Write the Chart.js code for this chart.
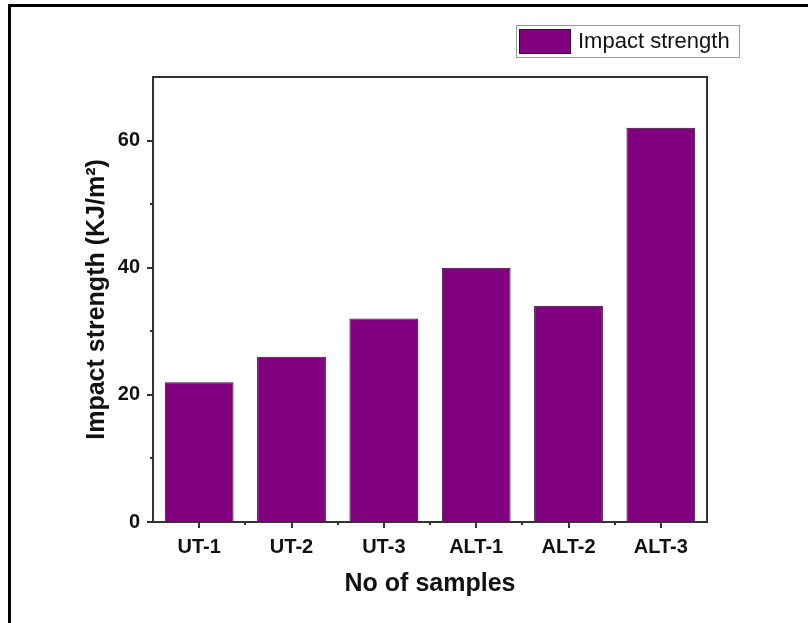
<!DOCTYPE html>
<html>
<head>
<meta charset="utf-8">
<script src="https://cdn.jsdelivr.net/npm/chart.js@4.4.0/dist/chart.umd.min.js"></script>
<style>
  body { margin: 0; background: #fff; }
  #wrap { position: relative; width: 808px; height: 623px; }
  #frame { position: absolute; left: 8px; top: 4px; width: 800px; height: 619px;
           border-top: 3px solid #000; border-left: 3px solid #000; box-sizing: border-box; }
  canvas { position: absolute; left: 0; top: 0; }
</style>
</head>
<body>
<div id="wrap">
  <div id="frame"></div>
  <canvas id="impactChart" width="808" height="623"></canvas>
</div>
<script>
const categories = ['UT-1', 'UT-2', 'UT-3', 'ALT-1', 'ALT-2', 'ALT-3']; // x labels
const impactStrength = [22, 26, 32, 40, 34, 62]; // KJ/m2
const yMajorTicks = [0, 20, 40, 60];
const yMinorTicks = [10, 30, 50];

const axisColor = '#333';
const fontFamily = '"Liberation Sans", Arial, sans-serif';

// frame around the plot + minor ticks
const framePlugin = {
    id: 'frame',
    afterDraw(chart) {
        const ctx = chart.ctx;
        const a = chart.chartArea;
        const x = chart.scales.x;
        const y = chart.scales.y;
        ctx.save();
        ctx.strokeStyle = axisColor;
        ctx.lineWidth = 2;
        ctx.strokeRect(a.left, a.top, a.right - a.left, a.bottom - a.top);
        ctx.beginPath();
        yMinorTicks.forEach(v => {
            const py = Math.round(y.getPixelForValue(v));
            ctx.moveTo(a.left, py);
            ctx.lineTo(a.left - 3, py);
        });
        // category boundaries on x
        for (let i = 1; i < categories.length; i++) {
            const px = Math.round((x.getPixelForTick(i - 1) + x.getPixelForTick(i)) / 2);
            ctx.moveTo(px, a.bottom);
            ctx.lineTo(px, a.bottom + 3);
        }
        ctx.stroke();
        ctx.restore();
    }
};

// legend box in the top right
const legendPlugin = {
    id: 'boxLegend',
    afterDraw(chart) {
        const ctx = chart.ctx;
        const ds = chart.data.datasets[0];
        ctx.save();
        ctx.fillStyle = '#fff';
        ctx.fillRect(516, 25, 223, 32);
        ctx.strokeStyle = '#999';
        ctx.lineWidth = 1;
        ctx.strokeRect(516.5, 25.5, 223, 32);
        ctx.fillStyle = ds.backgroundColor;
        ctx.fillRect(519, 29, 51, 24);
        ctx.strokeStyle = ds.borderColor;
        ctx.strokeRect(519.5, 29.5, 51, 24);
        ctx.fillStyle = '#111';
        ctx.font = '22px ' + fontFamily;
        ctx.textBaseline = 'middle';
        ctx.fillText(ds.label, 578, 42);
        ctx.restore();
    }
};

const ctx = document.getElementById('impactChart').getContext('2d');
const impactChart = new Chart(ctx, {
    type: 'bar',
    data: {
        labels: categories,
        datasets: [{
            label: 'Impact strength',
            data: impactStrength,
            backgroundColor: '#800080',
            borderColor: '#2e0a2e',
            borderWidth: 1,
            barPercentage: 0.745,
            categoryPercentage: 1
        }]
    },
    options: {
        responsive: false,
        animation: false,
        layout: { padding: { left: 80, top: 77, right: 101, bottom: 0 } },
        plugins: { legend: { display: false }, tooltip: { enabled: false } },
        scales: {
            x: {
                grid: { offset: false, drawOnChartArea: false, drawTicks: true, tickLength: 6, color: axisColor, lineWidth: 2 },
                border: { display: false },
                ticks: { color: '#111', padding: 7, font: { family: fontFamily, size: 20, weight: 'bold' } },
                title: {
                    display: true,
                    text: 'No of samples',
                    color: '#111',
                    padding: { top: 0, bottom: 24 },
                    font: { family: fontFamily, size: 25, weight: 'bold' }
                },
                afterFit: s => { s.height = 101; }
            },
            y: {
                min: 0,
                max: 70,
                grid: { drawOnChartArea: false, drawTicks: true, tickLength: 6, color: axisColor, lineWidth: 2 },
                border: { display: false },
                ticks: { stepSize: 10, color: '#111', padding: 7, font: { family: fontFamily, size: 20, weight: 'bold' } },
                afterBuildTicks: s => { s.ticks = yMajorTicks.map(v => ({ value: v })); },
                title: {
                    display: true,
                    text: 'Impact strength (KJ/m²)',
                    color: '#111',
                    padding: { top: 2, bottom: 0 },
                    font: { family: fontFamily, size: 25, weight: 'bold' }
                },
                afterFit: s => { s.width = 73; }
            }
        }
    },
    plugins: [framePlugin, legendPlugin]
});
</script>
</body>
</html>
